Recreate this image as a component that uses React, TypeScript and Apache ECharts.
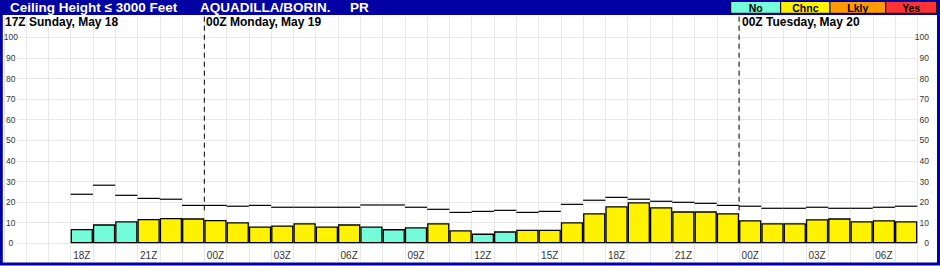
import React, { useEffect, useRef } from "react";
import * as echarts from "echarts";

const categories = [
  "15Z", "16Z", "17Z", "18Z", "19Z", "20Z", "21Z", "22Z", "23Z",
  "00Z", "01Z", "02Z", "03Z", "04Z", "05Z", "06Z", "07Z", "08Z", "09Z", "10Z", "11Z",
  "12Z", "13Z", "14Z", "15Z", "16Z", "17Z", "18Z", "19Z", "20Z", "21Z", "22Z", "23Z",
  "00Z", "01Z", "02Z", "03Z", "04Z", "05Z", "06Z", "07Z", "08Z",
];

const ceilingValues = [
  null, null, null, 7.0, 9.2, 10.7, 11.8, 12.3, 12.1,
  11.3, 10.2, 8.2, 8.7, 9.7, 8.2, 9.2, 8.2, 6.9, 7.8, 9.7, 6.3,
  4.7, 5.8, 6.6, 6.6, 10.2, 14.6, 18.0, 19.9, 17.5, 15.5, 15.5, 14.6,
  11.2, 9.7, 9.7, 11.7, 12.1, 10.7, 11.2, 10.7, null,
];

const probCategory = [
  "", "", "", "No", "No", "No", "Chnc", "Chnc", "Chnc",
  "Chnc", "Chnc", "Chnc", "Chnc", "Chnc", "Chnc", "Chnc", "No", "No", "No", "Chnc", "Chnc",
  "No", "No", "Chnc", "Chnc", "Chnc", "Chnc", "Chnc", "Chnc", "Chnc", "Chnc", "Chnc", "Chnc",
  "Chnc", "Chnc", "Chnc", "Chnc", "Chnc", "Chnc", "Chnc", "Chnc", "",
];

const upperValues = [
  null, null, null, 23.8, 28.2, 23.3, 21.8, 21.4, 18.4,
  18.4, 18.0, 18.4, 17.5, 17.5, 17.5, 17.5, 18.6, 18.6, 17.5, 16.5, 15.0,
  15.5, 16.0, 15.0, 15.5, 18.9, 20.9, 22.3, 21.4, 20.4, 19.9, 19.4, 18.4,
  18.0, 17.0, 17.0, 17.5, 17.0, 17.0, 17.5, 18.0, null,
];

const legendLabels = ["No", "Chnc", "Lkly", "Yes"];
const legendColors = ["#74FBDA", "#FFF200", "#FF9A00", "#FF3333"];

const dayBreakIndex = [9, 33];
const dateLabels = ["17Z Sunday, May 18", "00Z Monday, May 19", "00Z Tuesday, May 20"];
const yTicks = [0, 10, 20, 30, 40, 50, 60, 70, 80, 90, 100];

const FONT = "'Liberation Sans', Arial, Helvetica, sans-serif";
const BLUE = "#0000A3";
const GRID = "#E8E8E8";

export default function App() {
  const ref = useRef<HTMLDivElement>(null);

  useEffect(() => {
    document.body.style.margin = "0";
    if (!ref.current) return;
    const chart = echarts.init(ref.current, null, { renderer: "svg" });
    const colorOf = (c: string) => legendColors[legendLabels.indexOf(c)] || "#fff";

    const barData = ceilingValues.map((v, i) =>
      v == null ? null : { value: v, itemStyle: { color: colorOf(probCategory[i]) } }
    );
    const stepData = upperValues
      .map((v, i) => (v == null ? null : [i, v]))
      .filter((d) => d != null);

    const legendX = [730.7, 780.7, 830, 885.7, 936.7];
    const graphics: any[] = [
      { type: "rect", shape: { x: 0, y: 0, width: 940, height: 15 }, style: { fill: BLUE }, z: 100 },
      { type: "text", x: 10, y: 7.6, style: { text: "Ceiling Height \u2264 3000 Feet", fill: "#fff", font: `bold 13.5px ${FONT}`, verticalAlign: "middle" }, z: 101 },
      { type: "text", x: 200, y: 7.6, style: { text: "AQUADILLA/BORIN.", fill: "#fff", font: `bold 13.5px ${FONT}`, verticalAlign: "middle" }, z: 101 },
      { type: "text", x: 350, y: 7.6, style: { text: "PR", fill: "#fff", font: `bold 13.5px ${FONT}`, verticalAlign: "middle" }, z: 101 },
    ];
    legendLabels.forEach((lab, i) => {
      const x0 = legendX[i];
      const x1 = legendX[i + 1];
      graphics.push({
        type: "rect",
        shape: { x: x0, y: 1.5, width: x1 - x0, height: 11.8 },
        style: { fill: legendColors[i], stroke: "#000", lineWidth: 1 },
        z: 102,
      });
      graphics.push({
        type: "text",
        x: (x0 + x1) / 2,
        y: 7.6,
        style: { text: lab, fill: "#000", font: `bold 10.5px ${FONT}`, align: "center", verticalAlign: "middle" },
        z: 103,
      });
    });
    const dateX = [5, 206, 742];
    dateLabels.forEach((t, i) => {
      graphics.push({
        type: "text",
        x: dateX[i],
        y: 21.8,
        style: { text: t, fill: "#000", font: `bold 12px ${FONT}`, verticalAlign: "middle" },
        z: 50,
      });
    });
    graphics.push({
      type: "rect",
      shape: { x: 1.3, y: 0, width: 937.2, height: 263.9 },
      style: { fill: "none", stroke: BLUE, lineWidth: 3 },
      z: 110,
    });

    const option: any = {
      animation: false,
      backgroundColor: "#fff",
      grid: [
        { left: 3.8, right: 0.4, top: 16.7, bottom: 2.1, outerBoundsMode: "none", containLabel: false },
        { left: 17.5, right: 22.7, top: 37.3, bottom: 22.7, outerBoundsMode: "none", containLabel: false },
      ],
      xAxis: [
        {
          type: "category",
          gridIndex: 0,
          position: "bottom",
          offset: -20.6,
          data: categories,
          boundaryGap: true,
          axisLine: { show: false, onZero: false },
          axisTick: { show: false },
          splitLine: { show: true, interval: 0, lineStyle: { color: GRID, width: 1 } },
          axisLabel: {
            interval: (idx: number, val: string) => parseInt(val, 10) % 3 === 0 && idx >= 3 && idx <= 40,
            color: "#333",
            fontSize: 10,
            fontFamily: FONT,
            margin: 7,
          },
        },
        { type: "value", gridIndex: 1, min: 0, max: 1, show: false },
      ],
      yAxis: [
        {
          type: "value",
          gridIndex: 0,
          position: "left",
          min: -10,
          max: 110,
          interval: 10,
          splitLine: { show: false },
          axisLine: { show: false },
          axisTick: { show: false },
          axisLabel: {
            inside: true,
            margin: 7,
            align: "center",
            color: "#333",
            fontSize: 8.5,
            fontFamily: FONT,
            formatter: (v: number) => (yTicks.includes(v) ? String(v) : ""),
          },
        },
        {
          type: "value",
          gridIndex: 0,
          position: "right",
          min: -10,
          max: 110,
          interval: 10,
          splitLine: { show: false },
          axisLine: { show: false },
          axisTick: { show: false },
          axisLabel: {
            inside: true,
            margin: 10.6,
            color: "#333",
            fontSize: 8.5,
            fontFamily: FONT,
            formatter: (v: number) => (yTicks.includes(v) ? String(v) : ""),
          },
        },
        {
          type: "value",
          gridIndex: 1,
          min: 0,
          max: 100,
          interval: 10,
          splitLine: { show: true, lineStyle: { color: GRID, width: 1 } },
          axisLine: { show: false },
          axisTick: { show: false },
          axisLabel: { show: false },
        },
      ],
      series: [
        {
          type: "bar",
          xAxisIndex: 0,
          yAxisIndex: 0,
          data: barData,
          barCategoryGap: "0%",
          itemStyle: { borderColor: "#000", borderWidth: 1.3 },
          z: 5,
        },
        {
          type: "custom",
          xAxisIndex: 0,
          yAxisIndex: 0,
          data: stepData,
          z: 6,
          renderItem: (params: any, api: any) => {
            const idx = api.value(0);
            const v = api.value(1);
            const p = api.coord([idx, v]);
            const w = api.size([1, 0])[0];
            return {
              type: "line",
              shape: { x1: p[0] - w / 2, y1: p[1], x2: p[0] + w / 2, y2: p[1] },
              style: { stroke: "#000", lineWidth: 1.2 },
            };
          },
        },
        {
          type: "custom",
          xAxisIndex: 0,
          yAxisIndex: 0,
          data: dayBreakIndex.map((i) => [i, 110, 16]),
          z: 6,
          renderItem: (params: any, api: any) => {
            const idx = api.value(0);
            const top = api.coord([idx, api.value(1)]);
            const bot = api.coord([idx, api.value(2)]);
            const w = api.size([1, 0])[0];
            const x = top[0] - w / 2;
            return {
              type: "line",
              shape: { x1: x, y1: top[1], x2: x, y2: bot[1] },
              style: { stroke: "#000", lineWidth: 1, lineDash: [5, 4] },
            };
          },
        },
      ],
      graphic: graphics,
    };
    chart.setOption(option);
    return () => chart.dispose();
  }, []);

  return <div ref={ref} style={{ width: 940, height: 266 }} />;
}
